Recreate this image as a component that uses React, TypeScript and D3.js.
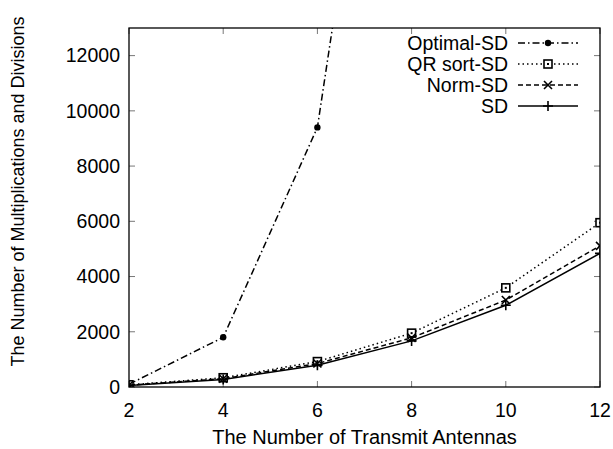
import { useEffect, useRef } from "react";
import * as d3 from "d3";

const antennas = [2, 4, 6, 8, 10, 12];
const optimalSD = [100, 1800, 9400, 32000];
const qrSortSD = [80, 335, 920, 1950, 3590, 5950];
const normSD = [65, 300, 850, 1780, 3150, 5110];
const plainSD = [50, 270, 790, 1670, 2960, 4840];
const xTicks = [2, 4, 6, 8, 10, 12];
const yTicks = [0, 2000, 4000, 6000, 8000, 10000, 12000];

const series = [
  { name: "Optimal-SD", values: optimalSD, dash: "7,3,1.5,3", marker: "circle" },
  { name: "QR sort-SD", values: qrSortSD, dash: "1.5,3", marker: "square" },
  { name: "Norm-SD", values: normSD, dash: "5,3", marker: "cross" },
  { name: "SD", values: plainSD, dash: "", marker: "plus" },
];

export default function App() {
  const svgRef = useRef<SVGSVGElement>(null);

  useEffect(() => {
    document.body.style.margin = "0";
    if (!svgRef.current) return;
    const svg = d3.select(svgRef.current);
    svg.selectAll("*").remove();

    const width = 613;
    const height = 449;
    const m = { left: 129, right: 13, top: 28, bottom: 62 };
    const iw = width - m.left - m.right;
    const ih = height - m.top - m.bottom;
    const font = "'Liberation Sans', Arial, sans-serif";
    const fs = 19.5;

    const x = d3.scaleLinear().domain([2, 12]).range([0, iw]);
    const y = d3.scaleLinear().domain([0, 13000]).range([ih, 0]);

    svg.append("defs").append("clipPath").attr("id", "plot-clip")
      .append("rect").attr("width", iw).attr("height", ih);

    const g = svg.append("g").attr("transform", `translate(${m.left},${m.top})`);

    // ticks on all four sides, pointing inward
    const tickLen = 6;
    const tickG = g.append("g").attr("stroke", "#777").attr("stroke-width", 1);
    xTicks.forEach(t => {
      tickG.append("line").attr("x1", x(t)).attr("x2", x(t)).attr("y1", ih).attr("y2", ih - tickLen);
      tickG.append("line").attr("x1", x(t)).attr("x2", x(t)).attr("y1", 0).attr("y2", tickLen);
    });
    yTicks.forEach(t => {
      tickG.append("line").attr("x1", 0).attr("x2", tickLen).attr("y1", y(t)).attr("y2", y(t));
      tickG.append("line").attr("x1", iw).attr("x2", iw - tickLen).attr("y1", y(t)).attr("y2", y(t));
    });

    g.selectAll(".xl").data(xTicks).join("text")
      .attr("x", d => x(d)).attr("y", ih + 30)
      .attr("text-anchor", "middle").attr("font-family", font).attr("font-size", fs)
      .text(d => d);
    g.selectAll(".yl").data(yTicks).join("text")
      .attr("x", -9).attr("y", d => y(d)).attr("dy", "0.35em")
      .attr("text-anchor", "end").attr("font-family", font).attr("font-size", fs)
      .text(d => d);

    const line = d3.line<number>().x((_, i) => x(antennas[i])).y(d => y(d));

    const drawMarker = (sel: any, kind: string, cx: number, cy: number) => {
      if (kind === "circle") {
        sel.append("circle").attr("cx", cx).attr("cy", cy).attr("r", 3.2).attr("fill", "#000");
      } else if (kind === "square") {
        sel.append("rect").attr("x", cx - 4).attr("y", cy - 4).attr("width", 8).attr("height", 8)
          .attr("fill", "#fff").attr("stroke", "#000").attr("stroke-width", 1.6);
        sel.append("rect").attr("x", cx - 1).attr("y", cy - 1).attr("width", 2).attr("height", 2).attr("fill", "#000");
      } else if (kind === "cross") {
        sel.append("path").attr("d", `M${cx - 4},${cy - 4}L${cx + 4},${cy + 4}M${cx - 4},${cy + 4}L${cx + 4},${cy - 4}`)
          .attr("stroke", "#000").attr("stroke-width", 1.6);
      } else {
        sel.append("path").attr("d", `M${cx - 5},${cy}L${cx + 5},${cy}M${cx},${cy - 5}L${cx},${cy + 5}`)
          .attr("stroke", "#000").attr("stroke-width", 1.6);
      }
    };

    const plot = g.append("g").attr("clip-path", "url(#plot-clip)");
    series.forEach(s => {
      plot.append("path").attr("d", line(s.values)).attr("fill", "none")
        .attr("stroke", "#000").attr("stroke-width", 1.5)
        .attr("stroke-dasharray", s.dash || null);
      const mg = plot.append("g");
      s.values.forEach((v, i) => drawMarker(mg, s.marker, x(antennas[i]), y(v)));
    });

    // frame
    g.append("rect").attr("width", iw).attr("height", ih)
      .attr("fill", "none").attr("stroke", "#000").attr("stroke-width", 1.3);

    // legend
    const lg = g.append("g").attr("transform", `translate(${508 - m.left},${43 - m.top})`);
    series.forEach((s, i) => {
      const ly = i * 21;
      lg.append("text").attr("x", 0).attr("y", ly).attr("dy", "0.35em")
        .attr("text-anchor", "end").attr("font-family", font).attr("font-size", fs)
        .text(s.name);
      lg.append("line").attr("x1", 10).attr("x2", 70).attr("y1", ly).attr("y2", ly)
        .attr("stroke", "#000").attr("stroke-width", 1.5)
        .attr("stroke-dasharray", s.dash || null);
      drawMarker(lg, s.marker, 40, ly);
    });

    svg.append("text")
      .attr("x", m.left + iw / 2).attr("y", height - 5)
      .attr("text-anchor", "middle").attr("font-family", font).attr("font-size", 20)
      .text("The Number of Transmit Antennas");
    svg.append("text")
      .attr("transform", `translate(24,${m.top + ih / 2 - 16}) rotate(-90)`)
      .attr("text-anchor", "middle").attr("font-family", font).attr("font-size", 18)
      .text("The Number of Multiplications and Divisions");
  }, []);

  return <svg ref={svgRef} width={613} height={449} style={{ display: "block" }} />;
}
